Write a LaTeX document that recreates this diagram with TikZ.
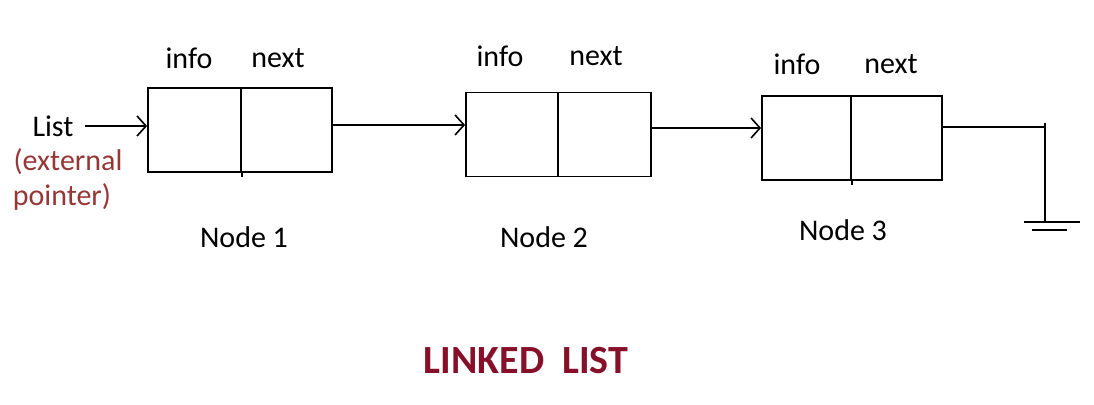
\documentclass[tikz,border=0pt]{standalone}
\usepackage{fontspec}
\setmainfont{Carlito}
\usetikzlibrary{arrows.meta}
\definecolor{maroonA}{HTML}{953735}
\definecolor{maroonB}{HTML}{86102A}
\tikzset{
  lbl/.style={font=\fontsize{30}{33}\selectfont, inner sep=0pt, anchor=center},
  cell/.style={draw, line width=1.8pt, minimum height=84pt, inner sep=0pt},
  link/.style={line width=1.8pt, -{Straight Barb[length=9pt,width=20pt,line width=1.6pt]}},
  plain/.style={line width=1.8pt}
}
\begin{document}
\begin{tikzpicture}[x=1pt,y=-1pt]
\useasboundingbox (0,0) rectangle (1094,404);
% Node 1
\node[cell, minimum width=93pt] (n1i) at (194.5,130) {};
\node[cell, minimum width=91pt] (n1n) at (286.5,130) {};
% Node 2
\node[cell, minimum width=92pt] (n2i) at (512,134.5) {};
\node[cell, minimum width=93pt] (n2n) at (604.5,134.5) {};
% Node 3
\node[cell, minimum width=89pt] (n3i) at (806.5,138) {};
\node[cell, minimum width=91pt] (n3n) at (896.5,138) {};
% dividers extending a little below
\draw[plain] (n1i.south east) -- ++(0,4);
\draw[plain] (n3i.south east) -- ++(0,4);
% labels
\node[lbl] (i1) at (189,58) {info};
\node[lbl] (x1) at (278,58) {next};
\node[lbl] (i2) at (500,56) {info};
\node[lbl] (x2) at (596,56) {next};
\node[lbl] (i3) at (797,64) {info};
\node[lbl] (x3) at (891,64) {next};
\node[lbl] (t1) at (244,237) {Node 1};
\node[lbl] (t2) at (544,237) {Node 2};
\node[lbl] (t3) at (843,230) {Node 3};
% external pointer
\node[lbl] (list) at (53,126) {List};
\node[lbl, text=maroonA] (ext1) at (68,162) {(external};
\node[lbl, text=maroonA] (ext2) at (62,197) {pointer)};
\coordinate (ls) at (85,126);
\draw[link] (ls) -- (n1i.west |- ls);
% links
\draw[link] (n1n.east |- 0,125) -- (n2i.west |- 0,125);
\draw[link] (n2n.east |- 0,128) -- (n3i.west |- 0,128);
% null / ground
\coordinate (g0) at (1045,127);
\coordinate (g1) at (1045,222);
\draw[plain] (n3n.east |- g0) -- (g0);
\draw[plain] (1045,123) -- (g1);
\coordinate (ga) at (1024,222);
\coordinate (gb) at (1080,222);
\coordinate (gc) at (1032,230);
\coordinate (gd) at (1067,230);
\draw[plain] (ga) -- (gb);
\draw[plain] (gc) -- (gd);
% title
\node[font=\fontsize{40}{44}\selectfont\bfseries, text=maroonB, inner sep=0pt] (title) at (526,361) {LINKED\ \ LIST};
\end{tikzpicture}
\end{document}
